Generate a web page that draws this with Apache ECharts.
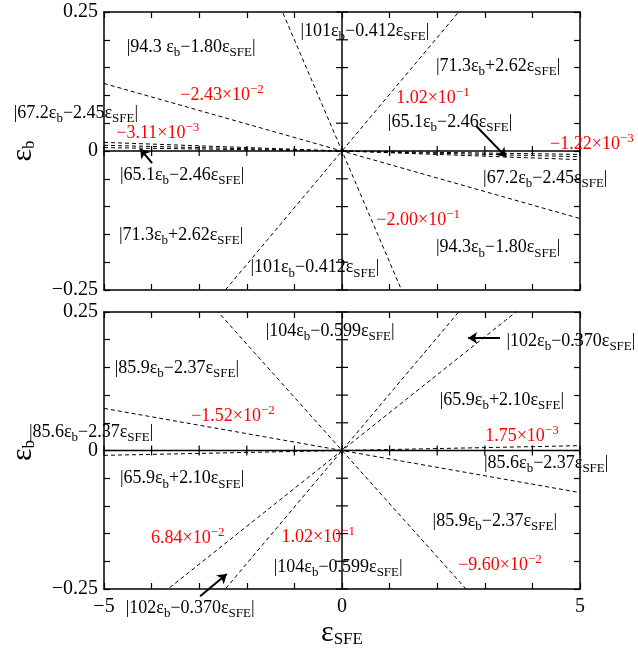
<!DOCTYPE html>
<html>
<head>
<meta charset="utf-8">
<script src="https://cdn.jsdelivr.net/npm/echarts@6/dist/echarts.min.js"></script>
<style>
  html, body { margin: 0; padding: 0; background: #fff; }
  #chart { width: 638px; height: 648px; }
</style>
</head>
<body>
<div id="chart"></div>
<script>
// ------------------------------
// Data
// ------------------------------

var xTicks = [-5, -4, -3, -2, -1, 0, 1, 2, 3, 4, 5];
var yTicks = [-0.25, -0.2, -0.15, -0.1, -0.05, 0, 0.05, 0.1, 0.15, 0.2, 0.25];

// slopes (eps_b / eps_SFE) of the dashed boundaries
var topSlopes = [-2.43e-2, 1.02e-1, -2.00e-1, -3.11e-3, -2.05e-3, -1.22e-3];
var bottomSlopes = [-1.52e-2, 1.75e-3, 6.84e-2, 1.02e-1, -9.60e-2];

// region labels: [x, y, coef of eps_b, coef of eps_SFE]
var topRegions = [
    [-3.17, 0.187, '94.3 ', '\u22121.80'],
    [0.48, 0.216, '101', '\u22120.412'],
    [3.28, 0.153, '71.3', '+2.62'],
    [2.27, 0.052, '65.1', '\u22122.46'],
    [-5.59, 0.068, '67.2', '\u22122.45'],
    [-3.36, -0.043, '65.1', '\u22122.46'],
    [-3.38, -0.151, '71.3', '+2.62'],
    [-0.57, -0.210, '101', '\u22120.412'],
    [4.27, -0.049, '67.2', '\u22122.45'],
    [3.28, -0.174, '94.3', '\u22121.80']
];
var bottomRegions = [
    [-0.25, 0.216, '104', '\u22120.599'],
    [4.81, 0.198, '102', '\u22120.370'],
    [-3.47, 0.149, '85.9', '\u22122.37'],
    [3.36, 0.091, '65.9', '+2.10'],
    [-5.27, 0.033, '85.6', '\u22122.37'],
    [-3.36, -0.051, '65.9', '+2.10'],
    [4.29, -0.023, '85.6', '\u22122.37'],
    [3.21, -0.127, '85.9', '\u22122.37'],
    [-0.08, -0.210, '104', '\u22120.599'],
    [-3.19, -0.284, '102', '\u22120.370']
];

// slope labels: [x, y, mantissa, exponent]
var topSlopeLabels = [
    [1.91, 0.095, '1.02', '\u22121'],
    [5.25, 0.0126, '\u22121.22', '\u22123'],
    [-2.52, 0.101, '\u22122.43', '\u22122'],
    [-3.87, 0.032, '\u22123.11', '\u22123'],
    [1.60, -0.124, '\u22122.00', '\u22121']
];
var bottomSlopeLabels = [
    [-2.29, 0.062, '\u22121.52', '\u22122'],
    [3.78, 0.026, '1.75', '\u22123'],
    [-3.24, -0.158, '6.84', '\u22122'],
    [-0.50, -0.156, '1.02', '\u22121'],
    [3.32, -0.207, '\u22129.60', '\u22122']
];

// arrows: [[x0, y0], [x1, y1]] (head at the second point)
var topArrows = [
    [[2.82, 0.045], [3.45, -0.011]],
    [[-3.99, -0.022], [-4.24, 0.004]]
];
var bottomArrows = [
    [[3.32, 0.203], [2.65, 0.203]],
    [[-2.98, -0.263], [-2.42, -0.223]]
];

// ------------------------------
// Helpers
// ------------------------------

var serif = '"Liberation Serif", "DejaVu Serif", serif';

var richStyles = {
    t: { fontFamily: serif, fontSize: 18, color: '#000', lineHeight: 24 },
    s: { fontFamily: serif, fontSize: 13, color: '#000', lineHeight: 13, verticalAlign: 'bottom' },
    r: { fontFamily: serif, fontSize: 18, color: '#ff0000', lineHeight: 24 },
    p: { fontFamily: serif, fontSize: 13, color: '#ff0000', lineHeight: 13, verticalAlign: 'top' }
};

function coefText(a, b) {
    return '{t||' + a + '\u03b5}{s|b}{t|' + b + '\u03b5}{s|SFE}{t||}';
}

function sciText(m, e) {
    return '{r|' + m + '\u00d710}{p|' + e + '}';
}

function tickLabelY(v) {
    if (Math.abs(v) < 1e-9) return '0';
    if (Math.abs(Math.abs(v) - 0.25) < 1e-9) return v < 0 ? '\u22120.25' : '0.25';
    return '';
}

function tickLabelX(v) {
    if (Math.abs(v) < 1e-9) return '0';
    if (Math.abs(Math.abs(v) - 5) < 1e-9) return v < 0 ? '\u22125' : '5';
    return '';
}

var axisLineStyle = { show: true, onZero: false, lineStyle: { color: '#000', width: 1.5 } };
var tickStyle = { show: true, inside: true, length: 6, lineStyle: { color: '#000', width: 1.2 } };

function makeX(gridIndex, position, showLabels, withName) {
    var ax = {
        type: 'value', gridIndex: gridIndex, position: position,
        min: -5, max: 5, interval: 1,
        axisLine: axisLineStyle, axisTick: tickStyle,
        splitLine: { show: false },
        axisLabel: {
            show: showLabels, formatter: tickLabelX, margin: 8,
            fontFamily: serif, fontSize: 20, color: '#000'
        }
    };
    if (withName) {
        ax.name = '{e|\u03b5}{s|SFE}';
        ax.nameLocation = 'middle';
        ax.nameGap = 25;
        ax.nameTextStyle = {
            rich: {
                e: { fontFamily: serif, fontSize: 30, color: '#000', lineHeight: 30 },
                s: { fontFamily: serif, fontSize: 17, color: '#000', lineHeight: 17, verticalAlign: 'bottom', padding: [8, 0, 0, 0] }
            }
        };
    }
    return ax;
}

function makeY(gridIndex, position, showLabels) {
    var ax = {
        type: 'value', gridIndex: gridIndex, position: position,
        min: -0.25, max: 0.25, interval: 0.05,
        axisLine: axisLineStyle, axisTick: tickStyle,
        splitLine: { show: false },
        axisLabel: {
            show: showLabels, formatter: tickLabelY, margin: 6,
            fontFamily: serif, fontSize: 20, color: '#000'
        }
    };
    if (showLabels) {
        ax.name = '{e|\u03b5}{s|b}';
        ax.nameLocation = 'middle';
        ax.nameRotate = 90;
        ax.nameGap = 66;
        ax.nameTextStyle = {
            rich: {
                e: { fontFamily: serif, fontSize: 30, color: '#000', lineHeight: 30 },
                s: { fontFamily: serif, fontSize: 17, color: '#000', lineHeight: 17, verticalAlign: 'bottom' }
            }
        };
    }
    return ax;
}

// dashed lines through the origin, one line series per slope
function slopeSeries(slopes, xi, yi) {
    return slopes.map(function(s) {
        return {
            type: 'line', xAxisIndex: xi, yAxisIndex: yi,
            data: [[-5, -5 * s], [5, 5 * s]],
            symbol: 'none', clip: true, silent: true,
            lineStyle: { color: '#000', width: 1, type: [4, 3] },
            z: 3
        };
    });
}

// solid zero axes crossing in the middle, with ticks on both sides
function zeroAxesSeries(xi, yi) {
    return {
        type: 'custom', xAxisIndex: xi, yAxisIndex: yi,
        data: [[0, 0]], silent: true, clip: false, z: 4,
        renderItem: function(params, api) {
            var st = { stroke: '#000', lineWidth: 1.5 };
            var kids = [];
            var a = api.coord([0, -0.25]), b = api.coord([0, 0.25]);
            kids.push({ type: 'line', shape: { x1: a[0], y1: a[1], x2: b[0], y2: b[1] }, style: st });
            a = api.coord([-5, 0]); b = api.coord([5, 0]);
            kids.push({ type: 'line', shape: { x1: a[0], y1: a[1], x2: b[0], y2: b[1] }, style: st });
            xTicks.forEach(function(v) {
                var p = api.coord([v, 0]);
                kids.push({ type: 'line', shape: { x1: p[0], y1: p[1] - 5, x2: p[0], y2: p[1] + 5 },
                    style: { stroke: '#000', lineWidth: 1.2 } });
            });
            yTicks.forEach(function(v) {
                var p = api.coord([0, v]);
                kids.push({ type: 'line', shape: { x1: p[0] - 6, y1: p[1], x2: p[0] + 6, y2: p[1] },
                    style: { stroke: '#000', lineWidth: 1.2 } });
            });
            return { type: 'group', children: kids };
        }
    };
}

function labelSeries(regions, sci, xi, yi) {
    var data = regions.map(function(r) {
        return { value: [r[0], r[1]], label: { formatter: coefText(r[2], r[3]) } };
    }).concat(sci.map(function(r) {
        return { value: [r[0], r[1]], label: { formatter: sciText(r[2], r[3]) } };
    }));
    return {
        type: 'scatter', xAxisIndex: xi, yAxisIndex: yi,
        symbolSize: 0, clip: false, silent: true, z: 6,
        itemStyle: { opacity: 1 },
        label: {
            show: true, position: 'inside', align: 'center', verticalAlign: 'middle',
            color: '#000', opacity: 1, textBorderWidth: 0, rich: richStyles
        },
        data: data
    };
}

function arrowSeries(arrows, xi, yi) {
    return {
        type: 'lines', coordinateSystem: 'cartesian2d', xAxisIndex: xi, yAxisIndex: yi,
        symbol: ['none', 'arrow'], symbolSize: 9, clip: false, silent: true, z: 7,
        lineStyle: { color: '#000', width: 2, opacity: 1 },
        data: arrows.map(function(a) { return { coords: a }; })
    };
}

// ------------------------------
// Chart
// ------------------------------

var chart = echarts.init(document.getElementById('chart'), null, { renderer: 'canvas' });

var series = []
    .concat(slopeSeries(topSlopes, 0, 0))
    .concat(slopeSeries(bottomSlopes, 2, 2))
    .concat([zeroAxesSeries(0, 0), zeroAxesSeries(2, 2)])
    .concat([labelSeries(topRegions, topSlopeLabels, 0, 0), labelSeries(bottomRegions, bottomSlopeLabels, 2, 2)])
    .concat([arrowSeries(topArrows, 0, 0), arrowSeries(bottomArrows, 2, 2)]);

chart.setOption({
    animation: false,
    backgroundColor: '#fff',
    grid: [
        { left: 104, top: 12, width: 476, height: 278, containLabel: false, outerBoundsMode: 'none' },
        { left: 104, top: 312, width: 476, height: 277, containLabel: false, outerBoundsMode: 'none' }
    ],
    xAxis: [
        makeX(0, 'bottom', false, false),
        makeX(0, 'top', false, false),
        makeX(1, 'bottom', true, true),
        makeX(1, 'top', false, false)
    ],
    yAxis: [
        makeY(0, 'left', true),
        makeY(0, 'right', false),
        makeY(1, 'left', true),
        makeY(1, 'right', false)
    ],
    series: series
});
</script>
</body>
</html>
